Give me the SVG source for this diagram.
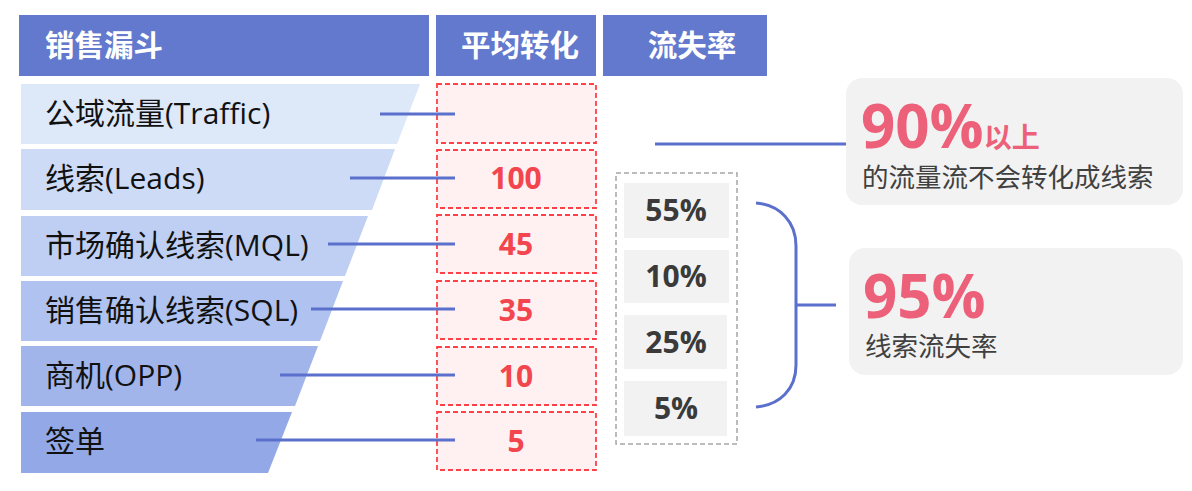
<svg xmlns="http://www.w3.org/2000/svg" width="1192" height="491" viewBox="0 0 1192 491">
<style>
.hdr{fill:#6279CD}
.htxt{font-family:"Noto Sans CJK SC",sans-serif;font-weight:bold;font-size:29.5px;fill:#ffffff}
.lbl{font-family:"Open Sans","Noto Sans CJK SC",sans-serif;font-size:30px;fill:#111111}
.conn{stroke:#5B70CC;stroke-width:3;fill:none}
.rbox{fill:#FFF0F1;stroke:#FF4046;stroke-width:1.8;stroke-dasharray:5 3}
.num{font-family:"Open Sans","Noto Sans CJK SC",sans-serif;font-weight:bold;font-size:30px;fill:#F2454D;text-anchor:middle}
.cell{fill:#F2F2F2}
.pct{font-family:"Open Sans",sans-serif;font-weight:bold;font-size:30px;fill:#3A3A3A;text-anchor:middle}
.card{fill:#F2F2F2}
.big{font-family:"Open Sans","Noto Sans CJK SC",sans-serif;font-weight:bold;font-size:60px;fill:#EC6079}
.sub{font-family:"Noto Sans CJK SC",sans-serif;font-size:26.5px;fill:#404040}
</style>
<g id="headers">
<rect class="hdr" x="19" y="15" width="410" height="61"/>
<text class="htxt" x="45" y="56">销售漏斗</text>
<rect class="hdr" x="436" y="15" width="160" height="61"/>
<text class="htxt" x="520" y="56" text-anchor="middle">平均转化</text>
<rect class="hdr" x="603" y="15" width="164" height="61"/>
<text class="htxt" x="692" y="56" text-anchor="middle">流失率</text>
</g>
<g id="funnel">
<g id="row-traffic"><polygon points="21,84 420,84 397,144 21,144" fill="#DDE8F9"/><text class="lbl" x="45" y="124">公域流量(Traffic)</text></g>
<g id="row-leads"><polygon points="21,149 395,149 372,210 21,210" fill="#CEDBF6"/><text class="lbl" x="45" y="189">线索(Leads)</text></g>
<g id="row-mql"><polygon points="21,216 368,216 345,276 21,276" fill="#BFCFF3"/><text class="lbl" x="45" y="256">市场确认线索(MQL)</text></g>
<g id="row-sql"><polygon points="21,281 343,281 320,341 21,341" fill="#B0C2EF"/><text class="lbl" x="45" y="321">销售确认线索(SQL)</text></g>
<g id="row-opp"><polygon points="21,346 318,346 295,406 21,406" fill="#A1B5EB"/><text class="lbl" x="45" y="386">商机(OPP)</text></g>
<g id="row-deal"><polygon points="21,412 292,412 268,473 21,473" fill="#92A8E7"/><text class="lbl" x="45" y="452">签单</text></g>
</g>
<g id="conversion">
<g id="conv-1"><rect class="rbox" x="437" y="84" width="159" height="59"/></g>
<g id="conv-2"><rect class="rbox" x="437" y="150" width="159" height="58"/><text class="num" x="516" y="189">100</text></g>
<g id="conv-3"><rect class="rbox" x="437" y="215" width="159" height="58"/><text class="num" x="516" y="255">45</text></g>
<g id="conv-4"><rect class="rbox" x="437" y="281" width="159" height="58"/><text class="num" x="516" y="321">35</text></g>
<g id="conv-5"><rect class="rbox" x="437" y="347" width="159" height="58"/><text class="num" x="516" y="387">10</text></g>
<g id="conv-6"><rect class="rbox" x="437" y="412" width="159" height="58"/><text class="num" x="516" y="452">5</text></g>
</g>
<g id="churn">
<rect x="616" y="173" width="121" height="271" fill="none" stroke="#A6A6A6" stroke-width="1.5" stroke-dasharray="5 3"/>
<g id="churn-1"><rect class="cell" x="624" y="183" width="105" height="55"/><text class="pct" x="676" y="221">55%</text></g>
<g id="churn-2"><rect class="cell" x="624" y="250" width="105" height="53"/><text class="pct" x="676" y="287">10%</text></g>
<g id="churn-3"><rect class="cell" x="624" y="315" width="103" height="54"/><text class="pct" x="676" y="353">25%</text></g>
<g id="churn-4"><rect class="cell" x="624" y="381" width="103" height="55"/><text class="pct" x="676" y="419">5%</text></g>
</g>
<g id="card-90">
<rect class="card" x="846" y="78" width="337" height="127" rx="16"/>
<text x="861" y="148"><tspan class="big">90%</tspan><tspan style="font-family:'Noto Sans CJK SC',sans-serif;font-weight:bold;font-size:28px;fill:#EC6079">以上</tspan></text>
<text class="sub" x="862" y="187">的流量流不会转化成线索</text>
</g>
<g id="card-95">
<rect class="card" x="849" y="248" width="334" height="127" rx="16"/>
<text class="big" x="863" y="318">95%</text>
<text class="sub" x="865" y="356">线索流失率</text>
</g>
<g id="connectors">
<line class="conn" x1="380" y1="114" x2="455" y2="114"/>
<line class="conn" x1="350" y1="178" x2="455" y2="178"/>
<line class="conn" x1="328" y1="244" x2="455" y2="244"/>
<line class="conn" x1="311" y1="309" x2="455" y2="309"/>
<line class="conn" x1="280" y1="375" x2="455" y2="375"/>
<line class="conn" x1="256" y1="440" x2="455" y2="440"/>
<line class="conn" x1="655" y1="144" x2="846" y2="144"/>
<path class="conn" d="M756,203 C780,205 796,222 796,246 L796,365 C796,389 780,405 756,407"/>
<line class="conn" x1="796" y1="305" x2="836" y2="305"/>
</g>
</svg>
